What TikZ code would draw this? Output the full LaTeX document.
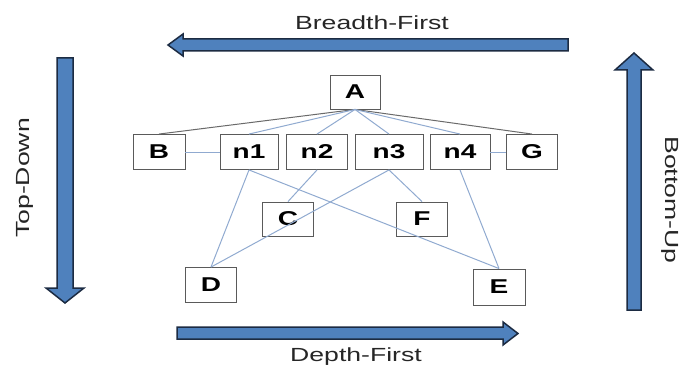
\documentclass[tikz,border=0pt]{standalone}
\usepackage{fontspec}
\setmainfont[FakeStretch=1.4]{Liberation Sans}
\definecolor{arrfill}{HTML}{4F81BD}
\definecolor{arrline}{HTML}{1C2B42}
\definecolor{boxline}{HTML}{5A5A5A}
\definecolor{edgeblue}{HTML}{90AAD0}
\definecolor{edgegray}{HTML}{6A6A6A}
\tikzset{
  vbox/.style={draw=boxline, line width=0.9pt, fill=white, minimum height=35pt, inner sep=0pt, font=\fontsize{20}{23}\selectfont\bfseries},
  bigarrow/.style={fill=arrfill, draw=arrline, line width=1.5pt, line join=miter},
  lbl/.style={font=\fontsize{19}{22}\selectfont, text=black!85},
  ebl/.style={draw=edgeblue, line width=1pt},
  egr/.style={draw=edgegray, line width=1pt}
}
\begin{document}
\begin{tikzpicture}[x=1pt,y=-1pt]
\useasboundingbox (0,0) rectangle (685,369);
% big arrows
\draw[bigarrow] (568,39)--(183,39)--(183,34)--(168,45)--(183,56)--(183,51)--(568,51)--cycle;
\draw[bigarrow] (177,327)--(503,327)--(503,322)--(518,333.5)--(503,345)--(503,339)--(177,339)--cycle;
\draw[bigarrow] (57,58)--(57,288)--(46,288)--(65,303)--(84,288)--(73,288)--(73,58)--cycle;
\draw[bigarrow] (627,310)--(627,70)--(615,70)--(634,53)--(653,70)--(641,70)--(641,310)--cycle;
% labels
\node[lbl] (tbf) at (372,23) {Breadth-First};
\node[lbl] (tdf) at (356,357) {Depth-First};
\node[lbl, rotate=90] (ttd) at (25,178) {Top-Down};
\node[lbl, rotate=-90] (tbu) at (670,200) {Bottom-Up};
% nodes
\node[vbox, minimum width=50pt, minimum height=34pt] (A) at (355,92) {A};
\node[vbox, minimum width=52pt] (B) at (159,152) {B};
\node[vbox, minimum width=58pt] (n1) at (249,152) {n1};
\node[vbox, minimum width=61pt] (n2) at (317,152) {n2};
\node[vbox, minimum width=68pt] (n3) at (389,152) {n3};
\node[vbox, minimum width=60pt] (n4) at (460,152) {n4};
\node[vbox, minimum width=51pt] (G) at (532,152) {G};
\node[vbox, minimum width=51pt, minimum height=34pt] (C) at (288,219) {C};
\node[vbox, minimum width=51pt, minimum height=34pt] (F) at (422,219) {F};
\node[vbox, minimum width=51pt] (D) at (211,285) {D};
\node[vbox, minimum width=52pt, minimum height=36pt] (E) at (499,287) {E};
% edges
\draw[egr] (A.south) -- (B.north);
\draw[egr] (A.south) -- (G.north);
\draw[ebl] (A.south) -- (n1.north);
\draw[ebl] (A.south) -- (n2.north);
\draw[ebl] (A.south) -- (n3.north);
\draw[ebl] (A.south) -- (n4.north);
\draw[ebl] (B.east) -- (n1.west);
\draw[ebl] (n4.east) -- (G.west);
\draw[ebl] (n1.south) -- (D.north);
\draw[ebl] (n1.south) -- (E.north);
\draw[ebl] (n2.south) -- (C.north);
\draw[ebl] (n3.south) -- (D.north);
\draw[ebl] (n3.south) -- (F.north);
\draw[ebl] (n4.south) -- (E.north);
\end{tikzpicture}
\end{document}
